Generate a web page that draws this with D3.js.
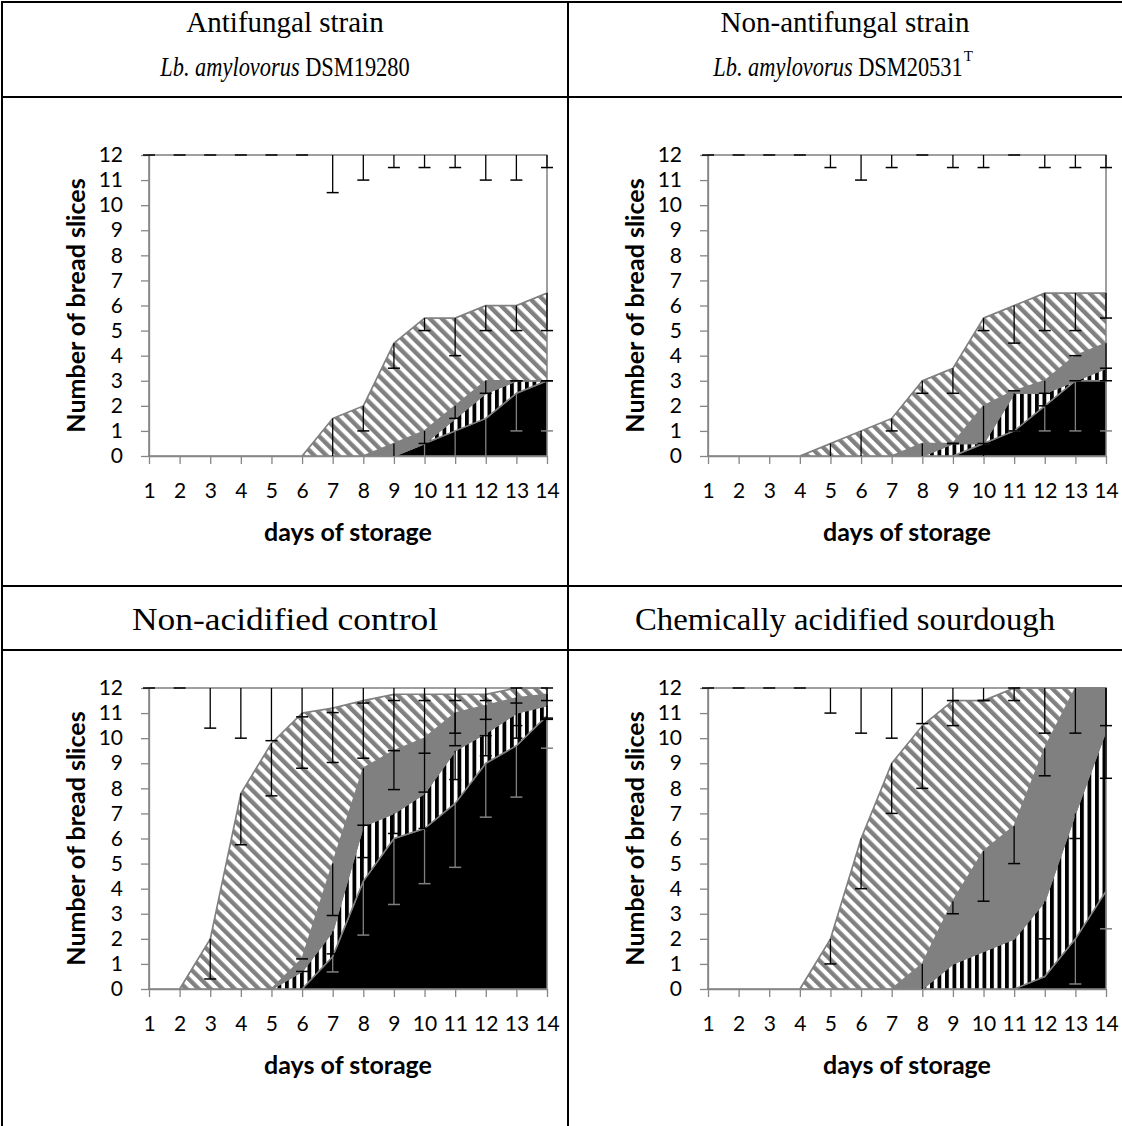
<!DOCTYPE html>
<html>
<head>
<meta charset="utf-8">
<script src="https://cdnjs.cloudflare.com/ajax/libs/d3/7.8.5/d3.min.js"></script>
<style>
body { margin: 0; background: #fff; }
svg { display: block; }
.tick text { font-family: Lato, "Open Sans", sans-serif; font-size: 21px; fill: #000; }
</style>
</head>
<body>
<svg id="fig" width="1122" height="1126"></svg>
<script>
// storage days and y ticks
var days = d3.range(1, 15);
var yTicks = d3.range(0, 13);
var totalSlices = 12;

// cumulative tops of the stacked series (bottom -> top): black, vertical stripes, grey, diagonal stripes
// the last (white) series always tops out at 12 slices
var afBlack = [0,0,0,0,0,0,0,0,0,0.5,1,1.5,2.5,3];
var afVert  = [0,0,0,0,0,0,0,0,0,0.5,1.5,2.5,3,3];
var afGrey  = [0,0,0,0,0,0,0,0,0.5,1,2,3,3,3];
var afDiag  = [0,0,0,0,0,0,1.5,2,4.5,5.5,5.5,6,6,6.5];
// minus error bars for each series (null = none)
var afErrWhite = [0,0,0,0,0,0,1.5,1,0.5,0.5,0.5,1,1,0.5];
var afErrDiag  = [null,null,null,null,null,null,1.5,1,1,0.5,1.5,1,1,1.5];
var afErrGrey  = [null,null,null,null,null,null,null,null,0.5,0.5,0.5,0.5,0,0];
var afErrVert  = [null,null,null,null,null,null,null,null,null,null,null,null,0,0];
var afErrBlack = [null,null,null,null,null,null,null,null,null,0.5,1,1.5,1.5,2];

var nafBlack = [0,0,0,0,0,0,0,0,0,0.5,1,2,3,3];
var nafVert  = [0,0,0,0,0,0,0,0,0.5,0.5,2.5,2.5,3,3.5];
var nafGrey  = [0,0,0,0,0,0,0,0.5,0.5,2,2.6,3,4,4.5];
var nafDiag  = [0,0,0,0,0.5,1,1.5,3,3.5,5.5,6,6.5,6.5,6.5];
var nafErrWhite = [0,0,0,0,0.5,1,0.5,0,0.5,0.5,0,0.5,0.5,0.5];
var nafErrDiag  = [null,null,null,null,0.5,1,0.5,0.5,1,0.5,1.5,1.5,1.5,1];
var nafErrGrey  = [null,null,null,null,null,null,null,0.5,0,2,0,0.5,0,1.5];
var nafErrVert  = [null,null,null,null,null,null,null,null,0,0,1.5,0.5,0,0];
var nafErrBlack = [null,null,null,null,null,null,null,null,null,0,0,1,2,2];

var ctrlBlack = [0,0,0,0,0,0,1.3,4.3,6,6.4,7.4,9,9.7,10.9];
var ctrlVert  = [0,0,0,0,0,0.7,2.3,6.5,7,7.8,9.5,10.2,11,11.3];
var ctrlGrey  = [0,0,0,0,0,1.2,5,8.8,9.5,10,11,11.3,11.6,11.75];
var ctrlDiag  = [0,0,2,7.8,9.8,11,11.2,11.5,11.75,11.75,11.75,11.75,12,12];
var ctrlErrWhite = [0,0,1.6,2,2.1,1.15,0.98,0.6,0.5,0.5,0.5,0.5,0,0];
var ctrlErrDiag  = [null,null,1.6,2.05,2.1,2.2,2.17,2.3,2.25,2.35,1.55,1,0.6,0.5];
var ctrlErrGrey  = [null,null,null,null,null,0,2.07,2.27,1.55,2.15,1.3,1.2,1.1,1];
var ctrlErrVert  = [null,null,null,null,null,0,0.9,1.26,0.8,1.4,1.15,0.9,1,0.5];
var ctrlErrBlack = [null,null,null,null,null,null,0.62,2.15,2.63,2.2,2.55,2.15,2.05,1.3];

var chemBlack = [0,0,0,0,0,0,0,0,0,0,0,0.5,2,3.9];
var chemVert  = [0,0,0,0,0,0,0,0,1,1.5,2,3.5,7,10.3];
var chemGrey  = [0,0,0,0,0,0,0,1,3.5,5.5,6.5,9.6,12,12];
var chemDiag  = [0,0,0,0,2,6,9,10.5,11.5,11.5,12,12,12,12];
var chemErrWhite = [0,0,0,0,1,1.8,2,1.42,0.5,0.5,0.5,1.8,1.8,1.5];
var chemErrDiag  = [null,null,null,null,1,2,2,2.5,1,0,0,null,null,null];
var chemErrGrey  = [null,null,null,null,null,null,null,1,0.5,2,1.5,1.1,null,3.6];
var chemErrVert  = [null,null,null,null,null,null,null,null,null,null,null,1.5,1,null];
var chemErrBlack = [null,null,null,null,null,null,null,null,null,null,null,null,1.8,1.5];

var grey = "#808080";
var svg = d3.select("#fig");

// fill patterns
var defs = svg.append("defs");
var vp = defs.append("pattern").attr("id", "vstripe")
    .attr("patternUnits", "userSpaceOnUse").attr("width", 7.5).attr("height", 10);
vp.append("rect").attr("width", 7.5).attr("height", 10).attr("fill", "#fff");
vp.append("rect").attr("width", 3.8).attr("height", 10).attr("fill", "#000");

var dp = defs.append("pattern").attr("id", "dstripe")
    .attr("patternUnits", "userSpaceOnUse").attr("width", 8.5).attr("height", 10)
    .attr("patternTransform", "rotate(-45)");
dp.append("rect").attr("width", 8.5).attr("height", 10).attr("fill", "#fff");
dp.append("rect").attr("width", 4.4).attr("height", 10).attr("fill", grey);

// table frame
var frame = svg.append("g").attr("stroke", "#000").attr("stroke-width", 2);
frame.append("line").attr("x1", 2).attr("x2", 1122).attr("y1", 2).attr("y2", 2);
frame.append("line").attr("x1", 2).attr("x2", 2).attr("y1", 1).attr("y2", 1126);
frame.append("line").attr("x1", 568).attr("x2", 568).attr("y1", 1).attr("y2", 1126);
[97, 586, 650].forEach(function(yy) {
  frame.append("line").attr("x1", 1).attr("x2", 1122).attr("y1", yy).attr("y2", yy);
});

// cell titles
var titleFont = "'Liberation Serif', 'DejaVu Serif', serif";
function title(cx, cy, size, sx) {
  return svg.append("text")
    .attr("transform", "translate(" + cx + "," + cy + ") scale(" + (sx || 1) + ",1)")
    .attr("text-anchor", "middle").attr("dominant-baseline", "central")
    .style("font-family", titleFont).style("font-size", size + "px");
}
title(285, 22, 29).text("Antifungal strain");
var t2 = title(285, 66, 28, 0.8);
t2.append("tspan").style("font-style", "italic").text("Lb. amylovorus");
t2.append("tspan").text(" DSM19280");
title(845, 22, 29).text("Non-antifungal strain");
var t4 = title(838, 66, 28, 0.8);
t4.append("tspan").style("font-style", "italic").text("Lb. amylovorus");
t4.append("tspan").text(" DSM20531");
// superscript T placed just after the strain number
var t4w = t4.node().getComputedTextLength() * 0.8;
svg.append("text").attr("x", 838 + t4w / 2 + 1).attr("y", 56)
  .attr("dominant-baseline", "central")
  .style("font-family", titleFont).style("font-size", "15px").text("T");
title(285, 619, 31).attr("textLength", 306).attr("lengthAdjust", "spacingAndGlyphs").text("Non-acidified control");
title(845, 619, 31).attr("textLength", 420).attr("lengthAdjust", "spacingAndGlyphs").text("Chemically acidified sourdough");

var panels = [
  {left: 149, top: 155, levels: [afBlack, afVert, afGrey, afDiag],
   errs: [afErrBlack, afErrVert, afErrGrey, afErrDiag, afErrWhite]},
  {left: 708, top: 155, levels: [nafBlack, nafVert, nafGrey, nafDiag],
   errs: [nafErrBlack, nafErrVert, nafErrGrey, nafErrDiag, nafErrWhite]},
  {left: 149, top: 688, levels: [ctrlBlack, ctrlVert, ctrlGrey, ctrlDiag],
   errs: [ctrlErrBlack, ctrlErrVert, ctrlErrGrey, ctrlErrDiag, ctrlErrWhite]},
  {left: 708, top: 688, levels: [chemBlack, chemVert, chemGrey, chemDiag],
   errs: [chemErrBlack, chemErrVert, chemErrGrey, chemErrDiag, chemErrWhite]}
];

var plotW = 398, plotH = 301;
var fills = ["#000", "url(#vstripe)", grey, "url(#dstripe)", "#fff"];

panels.forEach(function(p) {
  var x = d3.scaleLinear().domain([1, 14]).range([p.left, p.left + plotW]);
  var y = d3.scaleLinear().domain([0, totalSlices]).range([p.top + plotH, p.top]);
  var g = svg.append("g");

  var zeros = days.map(function() { return 0; });
  var full = days.map(function() { return totalSlices; });
  var stack = [zeros].concat(p.levels).concat([full]);

  for (var i = 0; i < 5; i++) {
    var lo = stack[i], hi = stack[i + 1];
    var area = d3.area()
      .x(function(d, j) { return x(d); })
      .y0(function(d, j) { return y(lo[j]); })
      .y1(function(d, j) { return y(hi[j]); });
    g.append("path").datum(days)
      .attr("d", area)
      .attr("fill", fills[i])
      .attr("stroke", grey)
      .attr("stroke-width", 1.5)
      .attr("stroke-linejoin", "round");
  }

  // axes
  var yAxis = g.append("g").attr("transform", "translate(" + p.left + ",0)")
    .call(d3.axisLeft(y).tickValues(yTicks).tickSizeInner(8).tickSizeOuter(0).tickPadding(18));
  var xAxis = g.append("g").attr("transform", "translate(0," + (p.top + plotH) + ")")
    .call(d3.axisBottom(x).tickValues(days).tickSizeInner(8).tickSizeOuter(0).tickPadding(19));
  [yAxis, xAxis].forEach(function(a) {
    a.select(".domain").attr("stroke", "#868686").attr("stroke-width", 1.3);
    a.selectAll(".tick line").attr("stroke", "#868686").attr("stroke-width", 1.3);
  });

  // error bars (minus direction), drawn on top
  var eb = g.append("g");
  var cums = p.levels.concat([full]);
  for (var s = 0; s < 5; s++) {
    var col = s === 0 ? grey : "#000";
    days.forEach(function(d, j) {
      var e = p.errs[s][j];
      if (e === null) return;
      var v = cums[s][j];
      var lowV = v - e;
      var xx = x(d);
      if (e > 0) {
        eb.append("line").attr("x1", xx).attr("x2", xx)
          .attr("y1", y(v)).attr("y2", y(Math.max(lowV, 0)))
          .attr("stroke", col).attr("stroke-width", 1.3);
      }
      if (lowV > 0.05) {
        eb.append("line").attr("x1", xx - 6).attr("x2", xx + 6)
          .attr("y1", y(lowV)).attr("y2", y(lowV))
          .attr("stroke", col).attr("stroke-width", 1.5);
      }
    });
  }

  // axis titles
  g.append("text")
    .attr("transform", "translate(" + (p.left - 74) + "," + (p.top + plotH / 2) + ") rotate(-90)")
    .attr("text-anchor", "middle").attr("dominant-baseline", "central")
    .style("font-family", "Lato, 'Open Sans', sans-serif").style("font-weight", "bold").style("font-size", "25px")
    .text("Number of bread slices");
  g.append("text")
    .attr("x", p.left + plotW / 2).attr("y", p.top + plotH + 75)
    .attr("text-anchor", "middle").attr("dominant-baseline", "central")
    .style("font-family", "Lato, 'Open Sans', sans-serif").style("font-weight", "bold").style("font-size", "25px")
    .text("days of storage");
});
</script>
</body>
</html>
